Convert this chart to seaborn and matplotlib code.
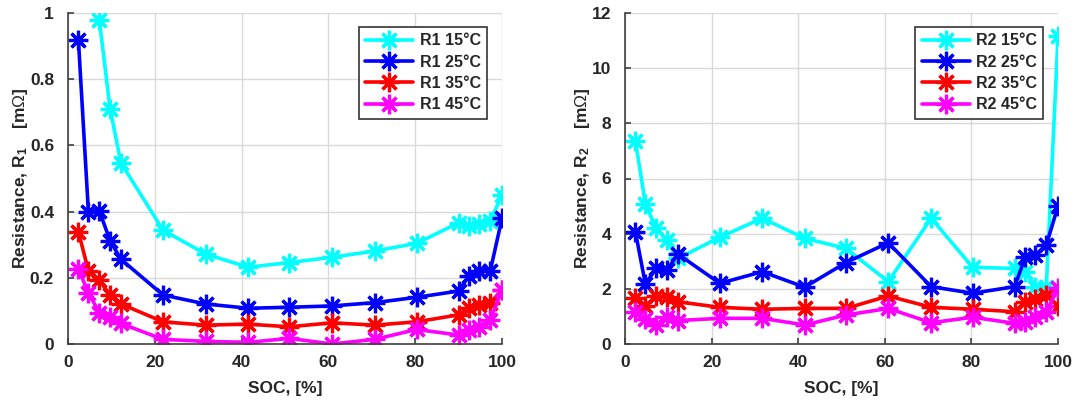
import numpy as np
import pandas as pd
import matplotlib
matplotlib.use("Agg")
import matplotlib.pyplot as plt
import seaborn as sns

# ---------------- data ----------------
soc = [2.4, 4.7, 7.2, 9.7, 12.2, 21.9, 31.7, 41.5, 51.0, 60.8, 70.7, 80.3, 90.0, 92.4, 94.8, 97.3, 100.0]
soc_r1_15 = soc[2:]

r1_15 = [0.98, 0.71, 0.547, 0.344, 0.272, 0.232, 0.246, 0.262, 0.281, 0.304, 0.366, 0.356, 0.362, 0.372, 0.45]
r1_25 = [0.918, 0.400, 0.403, 0.312, 0.256, 0.148, 0.121, 0.108, 0.111, 0.115, 0.125, 0.141, 0.160, 0.206, 0.221, 0.221, 0.380]
r1_35 = [0.339, 0.221, 0.193, 0.148, 0.121, 0.067, 0.057, 0.060, 0.052, 0.064, 0.057, 0.067, 0.088, 0.108, 0.118, 0.125, 0.163]
r1_45 = [0.226, 0.155, 0.095, 0.083, 0.062, 0.014, 0.008, 0.005, 0.017, 0.0, 0.014, 0.044, 0.027, 0.042, 0.052, 0.072, 0.163]

r2_15 = [7.37, 5.08, 4.19, 3.77, 3.10, 3.87, 4.56, 3.83, 3.47, 2.26, 4.56, 2.78, 2.74, 2.62, 2.08, 2.08, 11.15]
r2_25 = [4.07, 2.18, 2.74, 2.68, 3.26, 2.20, 2.62, 2.06, 2.95, 3.67, 2.08, 1.84, 2.08, 3.14, 3.23, 3.59, 5.00]
r2_35 = [1.66, 1.38, 1.74, 1.69, 1.53, 1.33, 1.26, 1.29, 1.29, 1.74, 1.33, 1.26, 1.17, 1.53, 1.62, 1.78, 1.38]
r2_45 = [1.17, 0.89, 0.69, 0.97, 0.85, 0.93, 0.93, 0.69, 1.05, 1.29, 0.77, 0.97, 0.75, 0.81, 0.99, 1.17, 2.02]

temps = ["15°C", "25°C", "35°C", "45°C"]
colors = ["#00FFFF", "#0000FF", "#FF0000", "#FF00FF"]

x_ticks = [0, 20, 40, 60, 80, 100]
y1_ticks = [0, 0.2, 0.4, 0.6, 0.8, 1]
y1_labels = ["0", "0.2", "0.4", "0.6", "0.8", "1"]
y2_ticks = [0, 2, 4, 6, 8, 10, 12]

# ---------------- style ----------------
sns.set_theme(style="whitegrid")
plt.rcParams["font.family"] = ["Liberation Sans", "DejaVu Sans"]
plt.rcParams["mathtext.fontset"] = "custom"
plt.rcParams["mathtext.rm"] = "Liberation Sans"
plt.rcParams["mathtext.bf"] = "Liberation Sans:bold"
plt.rcParams["mathtext.it"] = "Liberation Serif:italic"

fig = plt.figure(figsize=(10.75, 4.03), dpi=100)
ax1 = fig.add_axes([68 / 1075, 59 / 403, 434 / 1075, 331 / 403])
ax2 = fig.add_axes([625 / 1075, 59 / 403, 433 / 1075, 331 / 403])

marker = (8, 2, 0)
FS = 12.5


def draw(ax, xs_list, ys_list, prefix):
    for xs, ys, t, c in zip(xs_list, ys_list, temps, colors):
        sns.lineplot(x=xs, y=ys, ax=ax, color=c, linewidth=2.6, marker=marker,
                     markersize=14, markeredgewidth=2.3, markeredgecolor=c,
                     markerfacecolor=c, label=f"{prefix} {t}", sort=False)


draw(ax1, [soc_r1_15, soc, soc, soc], [r1_15, r1_25, r1_35, r1_45], "R1")
draw(ax2, [soc] * 4, [r2_15, r2_25, r2_35, r2_45], "R2")

for ax, yt, ylab, ymax, sub, lx in [(ax1, y1_ticks, y1_labels, 1, "1", -0.088),
                                     (ax2, y2_ticks, [str(v) for v in y2_ticks], 12, "2", -0.076)]:
    ax.set_xlim(0, 100)
    ax.set_ylim(0, ymax)
    ax.set_xticks(x_ticks)
    ax.set_xticklabels([str(v) for v in x_ticks], fontsize=FS, fontweight="bold")
    ax.set_yticks(yt)
    ax.set_yticklabels(ylab, fontsize=FS, fontweight="bold")
    ax.grid(True, color="#d9d9d9", linewidth=1.0)
    ax.set_facecolor("white")
    for s in ["top", "right"]:
        ax.spines[s].set_visible(False)
    for s in ["left", "bottom"]:
        ax.spines[s].set_visible(True)
        ax.spines[s].set_color("#404040")
        ax.spines[s].set_linewidth(1.2)
    ax.tick_params(direction="in", length=4, width=1.2, color="#404040",
                   left=True, bottom=True, labelcolor="#262626")
    ax.tick_params(axis="y", pad=10)
    ax.tick_params(axis="x", pad=8)
    ax.set_xlabel("SOC, [%]", fontsize=FS, fontweight="bold", color="#262626")
    ax.set_ylabel("Resistance, R$_{\\mathbf{" + sub + "}}$    [m$\\mathit{\\Omega}$]",
                  fontsize=FS, fontweight="bold", color="#262626")
    ax.xaxis.set_label_coords(0.5, -0.112)
    ax.yaxis.set_label_coords(lx, 0.5)
    leg = ax.legend(loc="upper right", bbox_to_anchor=(0.966, 0.958), frameon=True, fancybox=False,
                    edgecolor="#333333", framealpha=1, handlelength=3.0, borderpad=0.4,
                    borderaxespad=0.0,
                    labelspacing=0.4, handletextpad=0.4, prop={"weight": "bold", "size": 11.5})
    leg.get_frame().set_linewidth(1.2)

fig.savefig("out.png", dpi=100, facecolor="white")
